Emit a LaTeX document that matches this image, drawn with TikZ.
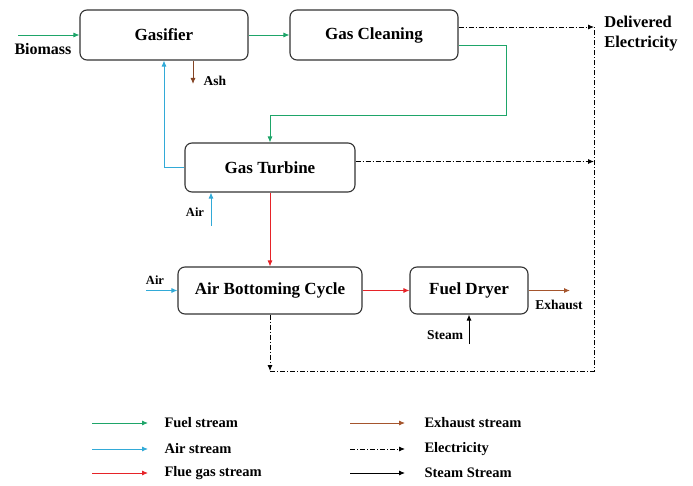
\documentclass[tikz,border=0pt]{standalone}
\usepackage{fontspec}
\setmainfont{Liberation Serif}
\usetikzlibrary{arrows.meta}
\definecolor{fuel}{RGB}{30,165,105}
\definecolor{air}{RGB}{50,170,215}
\definecolor{flue}{RGB}{230,35,40}
\definecolor{exh}{RGB}{165,85,45}
\begin{document}
\begin{tikzpicture}[x=1pt,y=-1pt,
    unit/.style={draw=black!80, line width=1.1pt, rounded corners=7pt, font=\fontsize{17}{19}\selectfont\bfseries},
    lbl/.style={font=\fontsize{13.5}{15}\selectfont\bfseries},
    key/.style={font=\fontsize{14.5}{16}\selectfont\bfseries, anchor=west},
    flow/.style={line width=0.9pt, -{Latex[length=6pt,width=5pt]}},
    elec/.style={line width=0.9pt, dash pattern=on 5pt off 2pt on 1pt off 2pt}]
    \useasboundingbox (0,0) rectangle (693,486);

    \node[unit, minimum width=168pt, minimum height=50pt] (gas) at (164,35) {Gasifier};
    \node[unit, minimum width=168pt, minimum height=50pt] (clean) at (374,35) {Gas Cleaning};
    \node[unit, minimum width=170pt, minimum height=49pt] (gt) at (270,167.5) {Gas Turbine};
    \node[unit, minimum width=184pt, minimum height=47pt] (abc) at (270,290.5) {Air Bottoming Cycle};
    \node[unit, minimum width=118pt, minimum height=47pt] (dry) at (469,290.5) {Fuel Dryer};

    \coordinate (bio) at (18,35);
    \coordinate (ash) at (193,84);
    \coordinate (gc) at (506,115);
    \coordinate (etop) at (594,27);
    \coordinate (ebot) at (594,371);
    \coordinate (ecorner) at (270,371);
    \coordinate (gtair) at (211,226);
    \coordinate (abcair) at (146,290.5);
    \coordinate (ex) at (570,290.5);
    \coordinate (stm) at (469,344);

    \node[lbl, font=\fontsize{16}{18}\selectfont\bfseries] (biolbl) at (43,49) {Biomass};
    \node[lbl] (ashlbl) at (215,81) {Ash};
    \node[lbl, align=left, font=\fontsize{16.5}{20}\selectfont\bfseries] (dellbl) at (641,34) {Delivered\\Electricity};
    \node[lbl, font=\fontsize{12.5}{14}\selectfont\bfseries] (gtairlbl) at (195,212) {Air};
    \node[lbl, font=\fontsize{12.5}{14}\selectfont\bfseries] (abcairlbl) at (155,280) {Air};
    \node[lbl] (exlbl) at (559,305) {Exhaust};
    \node[lbl] (stmlbl) at (445,335) {Steam};

    % fuel
    \path[draw,flow,fuel] (bio) -- (gas.west);
    \path[draw,flow,fuel] (gas.east) -- (clean.west);
    \path[draw,flow,fuel] ([yshift=-10pt]clean.east) -| (gc) -| (gt.north);
    % air
    \path[draw,flow,air] (gt.west) -| (gas.south);
    \path[draw,flow,air] (gtair) -- (gtair |- gt.south);
    \path[draw,flow,air] (abcair) -- (abc.west);
    % flue gas, exhaust, steam
    \path[draw,flow,exh!80!black] (gas.south -| ash) -- (ash);
    \path[draw,flow,flue] (gt.south) -- (abc.north);
    \path[draw,flow,flue] (abc.east) -- (dry.west);
    \path[draw,flow,exh] (dry.east) -- (ex);
    \path[draw,flow,black] (stm) -- (dry.south);
    % electricity
    \path[draw,elec,-{Latex[length=6pt,width=5pt]}] ([yshift=8pt]clean.east) -- (etop);
    \path[draw,elec,-{Latex[length=6pt,width=5pt]}] ([yshift=6pt]gt.east) -- ([yshift=6pt]gt.east -| etop);
    \path[draw,elec,-{Latex[length=6pt,width=5pt]}] (abc.south) -- (ecorner);
    \path[draw,elec] (ecorner) -- (ebot) -- (etop);

    % legend
    \node[key] (l1) at (161,423) {Fuel stream};
    \node[key] (l2) at (161,449) {Air stream};
    \node[key] (l3) at (161,473) {Flue gas stream};
    \node[key] (l4) at (421,423) {Exhaust stream};
    \node[key] (l5) at (421,449) {Electricity};
    \node[key] (l6) at (421,473) {Steam Stream};
    \coordinate (k1) at (92,423);
    \coordinate (k2) at (92,449);
    \coordinate (k3) at (92,473);
    \coordinate (k4) at (350,423);
    \coordinate (k5) at (350,449);
    \coordinate (k6) at (350,473);
    \path[draw,flow,fuel] (k1) -- ++(56,0);
    \path[draw,flow,air] (k2) -- ++(56,0);
    \path[draw,flow,flue] (k3) -- ++(56,0);
    \path[draw,flow,exh] (k4) -- ++(55,0);
    \path[draw,elec,-{Latex[length=6pt,width=5pt]}] (k5) -- ++(55,0);
    \path[draw,flow,black] (k6) -- ++(55,0);
\end{tikzpicture}
\end{document}
